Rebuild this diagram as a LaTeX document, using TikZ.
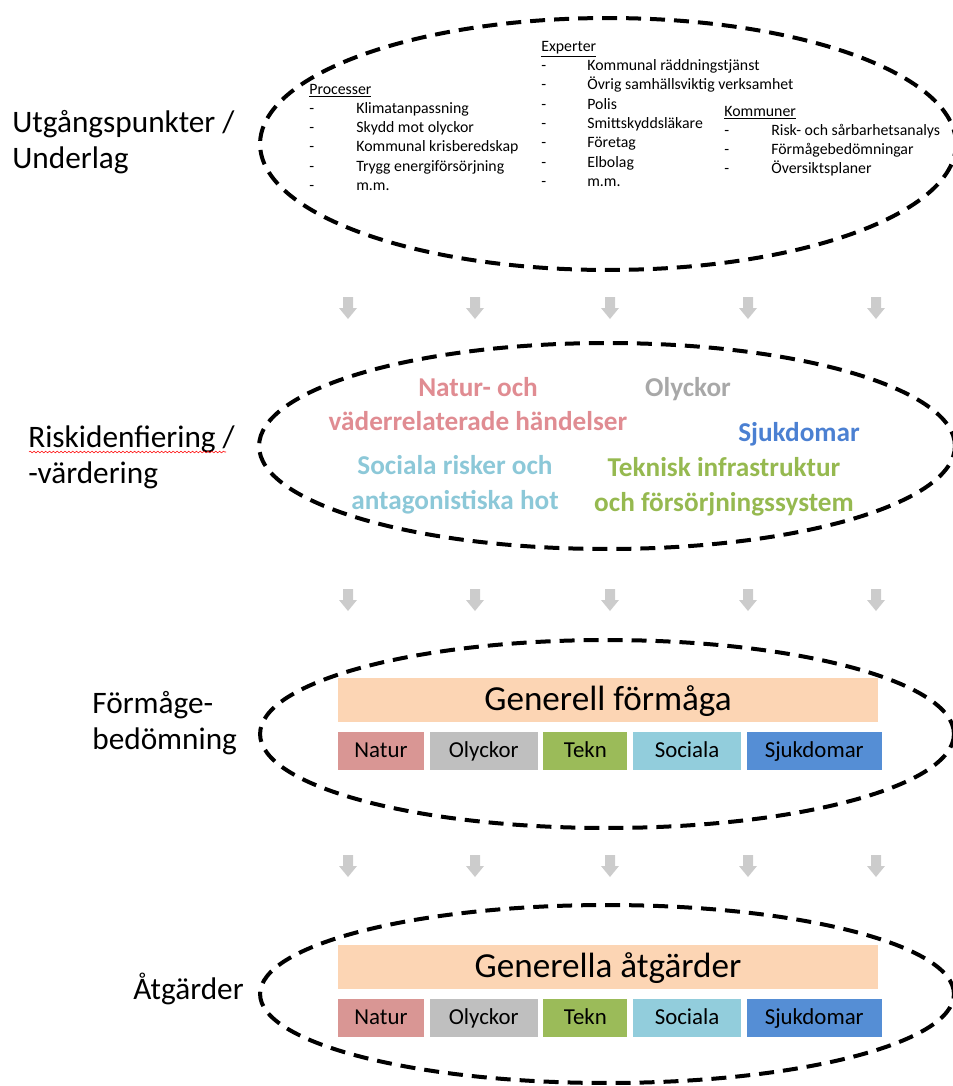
\documentclass[tikz,border=0pt]{standalone}
\usepackage{fontspec}
\setmainfont{Carlito}
\usetikzlibrary{positioning,decorations.pathmorphing}

\begin{document}
\begin{tikzpicture}[x=0.02cm,y=-0.02cm,
    oval/.style={line width=0.08cm, dash pattern=on 0.3cm off 0.18cm},
    steg/.style={anchor=base west, align=left, inner sep=0pt, font=\fontsize{17.8}{20.2}\selectfont},
    lista/.style={anchor=base west, inner sep=0pt, font=\fontsize{9}{11}\selectfont},
    risk/.style={align=center, inner sep=0pt, font=\bfseries\fontsize{15.5}{19.8}\selectfont},
    bar/.style={fill=peach, minimum width=10.82cm, minimum height=0.88cm, inner sep=0pt,
        text height=13.5pt, text depth=2pt, font=\fontsize{20}{22}\selectfont},
    ruta/.style={minimum height=0.76cm, inner sep=0pt, text height=9pt, text depth=1.5pt,
        font=\fontsize{13}{15}\selectfont},
    pil/.style={fill=black!20}]

\definecolor{peach}{RGB}{252,213,180}
\definecolor{natur}{RGB}{217,150,148}
\definecolor{olyck}{RGB}{191,191,191}
\definecolor{tekn}{RGB}{155,187,89}
\definecolor{soc}{RGB}{146,205,220}
\definecolor{sjuk}{RGB}{85,142,213}
\definecolor{naturtxt}{RGB}{224,140,146}
\definecolor{olycktxt}{RGB}{168,168,168}
\definecolor{sjuktxt}{RGB}{75,128,210}
\definecolor{soctxt}{RGB}{140,200,216}
\definecolor{tekntxt}{RGB}{150,185,80}

    \useasboundingbox (0,0) rectangle (953,1086);

    %Ellipser
    \draw [oval] (608,144) ellipse [x radius=6.96cm, y radius=2.52cm];
    \draw [oval] (607,446) ellipse [x radius=6.96cm, y radius=2.06cm];
    \draw [oval] (607,734) ellipse [x radius=6.94cm, y radius=1.88cm];
    \draw [oval] (607,994) ellipse [x radius=6.94cm, y radius=1.78cm];

    %Pilar
    \foreach \y in {308,600,866}
        \foreach \x in {348,475,610,748,876}
            \fill [pil] (\x-5,\y-11) -- ++(10,0) -- ++(0,11) -- ++(4,0)
                -- (\x,\y+11) -- (\x-9,\y) -- ++(4,0) -- cycle;

    %Rubriker
    \node [steg] (utg) at (12,168) {Utgångspunkter /\\Underlag};
    \node [steg] (riskid) at (28,483) {Riskidenfiering /\\-värdering};
    \node [steg] (formaga) at (92,749) {Förmåge-\\bedömning};
    \node [steg] (atgard) at (133,999) {Åtgärder};
    \draw [red, line width=0.3pt, decorate, decoration={snake, amplitude=0.5pt, segment length=2.2pt}]
        (29,452) -- (226,452);

    %Underlag
    \node [lista] (processer) at (309,94) {\begin{tabular}[t]{@{}p{0.94cm}@{}l@{}}
        \multicolumn{2}{@{}l@{}}{\underline{Processer}}\\
        - & Klimatanpassning\\
        - & Skydd mot olyckor\\
        - & Kommunal krisberedskap\\
        - & Trygg energiförsörjning\\
        - & m.m.
    \end{tabular}};
    \node [lista] (experter) at (541,51) {\begin{tabular}[t]{@{}p{0.92cm}@{}l@{}}
        \multicolumn{2}{@{}l@{}}{\underline{Experter}}\\
        - & Kommunal räddningstjänst\\
        - & Övrig samhällsviktig verksamhet\\
        - & Polis\\
        - & Smittskyddsläkare\\
        - & Företag\\
        - & Elbolag\\
        - & m.m.
    \end{tabular}};
    \node [lista] (kommuner) at (724,116) {\begin{tabular}[t]{@{}p{0.94cm}@{}l@{}}
        \multicolumn{2}{@{}l@{}}{\underline{Kommuner}}\\
        - & Risk- och sårbarhetsanalys\\
        - & Förmågebedömningar\\
        - & Översiktsplaner
    \end{tabular}};

    %Risker
    \node [risk, text=naturtxt] (natur) at (478,404) {Natur- och\\väderrelaterade händelser};
    \node [risk, text=olycktxt] (olyckor) at (688,389) {Olyckor};
    \node [risk, text=sjuktxt] (sjukdomar) at (799,434) {Sjukdomar};
    \node [risk, text=soctxt] (sociala) at (455,485) {Sociala risker och\\antagonistiska hot};
    \node [risk, text=tekntxt] (teknisk) at (724,487) {Teknisk infrastruktur\\och försörjningssystem};

    %Förmåga
    \node [bar] (generell) at (608,700) {Generell förmåga};
    \node [ruta, fill=natur, minimum width=1.72cm] (natur1) at (381,751) {Natur};
    \node [ruta, fill=olyck, minimum width=2.16cm, right=0.1cm of natur1] (olyck1) {Olyckor};
    \node [ruta, fill=tekn, minimum width=1.68cm, right=0.1cm of olyck1] (tekn1) {Tekn};
    \node [ruta, fill=soc, minimum width=2.16cm, right=0.1cm of tekn1] (soc1) {Sociala};
    \node [ruta, fill=sjuk, minimum width=2.7cm, right=0.1cm of soc1] (sjuk1) {Sjukdomar};

    %Åtgärder
    \node [bar] (generella) at (608,967) {Generella åtgärder};
    \node [ruta, fill=natur, minimum width=1.72cm] (natur2) at (381,1018) {Natur};
    \node [ruta, fill=olyck, minimum width=2.16cm, right=0.1cm of natur2] (olyck2) {Olyckor};
    \node [ruta, fill=tekn, minimum width=1.68cm, right=0.1cm of olyck2] (tekn2) {Tekn};
    \node [ruta, fill=soc, minimum width=2.16cm, right=0.1cm of tekn2] (soc2) {Sociala};
    \node [ruta, fill=sjuk, minimum width=2.7cm, right=0.1cm of soc2] (sjuk2) {Sjukdomar};

\end{tikzpicture}
\end{document}
